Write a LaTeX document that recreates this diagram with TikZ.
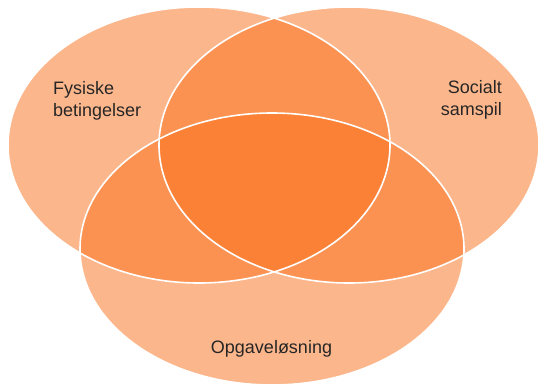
\documentclass[tikz,border=0pt]{standalone}
\usepackage{fontspec}
\setmainfont{Liberation Sans}
\usetikzlibrary{positioning}

\definecolor{venn}{RGB}{250,112,28}

\begin{document}
\begin{tikzpicture}[x=1pt,y=-1pt,
    vennfill/.style={fill=venn,fill opacity=.51},
    vennline/.style={draw=white,line width=1.6pt},
    every node/.style={inner sep=0pt,text=black!85,font=\fontsize{18}{22}\selectfont}]
    \useasboundingbox (0,0) rectangle (540,388);

    % Fills
    \fill[vennfill] (199,145) ellipse [x radius=191,y radius=138];
    \fill[vennfill] (349,145) ellipse [x radius=190,y radius=138];
    \fill[vennfill] (272,249) ellipse [x radius=192,y radius=136];

    % White borders on top
    \draw[vennline] (199,145) ellipse [x radius=191,y radius=138];
    \draw[vennline] (349,145) ellipse [x radius=190,y radius=138];
    \draw[vennline] (272,249) ellipse [x radius=192,y radius=136];

    \node[anchor=north west,align=left] (fysisk) at (53,81) {Fysiske\\betingelser};
    \node[anchor=north east,align=right] (social) at (502,80.5) {Socialt\\samspil};
    \node[anchor=base] (opgave) at (271.5,353) {Opgaveløsning};
\end{tikzpicture}
\end{document}
